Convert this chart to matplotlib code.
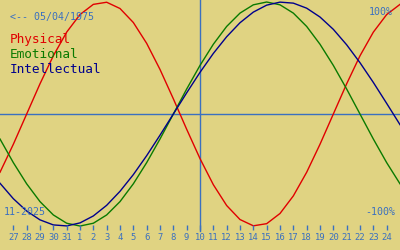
import matplotlib.pyplot as plt

# Colors
bg_color = '#e0d382'
blue = '#3a70c0'
colors = ['#e00000', '#0a7a00', '#00008c']

# Day labels along the bottom (Oct 26 .. Nov 25, only 27..24 are labelled)
day_labels = ['27', '28', '29', '30', '31'] + [str(d) for d in range(1, 25)]
today_index = 15  # the 10th, vertical marker

# Cycle values in percent, one per day, from Oct 26 (index 0) to Nov 25 (index 30)
physical = [-52.0, -27.0, 0.0, 27.0, 52.0, 73.1, 88.8, 97.9, 99.8, 94.2, 81.7,
            63.1, 39.8, 13.6, -13.6, -39.8, -63.1, -81.7, -94.2, -99.8, -97.9,
            -88.8, -73.1, -52.0, -27.0, 0.0, 27.0, 52.0, 73.1, 88.8, 97.9]
emotional = [-22.3, -43.4, -62.3, -78.2, -90.1, -97.5, -100.0, -97.5, -90.1, -78.2,
             -62.3, -43.4, -22.3, 0.0, 22.3, 43.4, 62.3, 78.2, 90.1, 97.5, 100.0,
             97.5, 90.1, 78.2, 62.3, 43.4, 22.3, 0.0, -22.3, -43.4, -62.3]
intellectual = [-61.8, -75.6, -86.6, -94.5, -99.0, -99.9, -97.2, -91.0, -81.5, -69.0,
                -54.1, -37.2, -18.9, 0.0, 18.9, 37.2, 54.1, 69.0, 81.5, 91.0, 97.2,
                99.9, 99.0, 94.5, 86.6, 75.6, 61.8, 45.8, 28.2, 9.5, -9.5]
names = ['Physical', 'Emotional', 'Intellectual']

fig = plt.figure(figsize=(4, 2.5), dpi=100)
fig.patch.set_facecolor(bg_color)
ax = fig.add_axes([0, 0, 1, 1])
ax.set_facecolor(bg_color)
ax.axis('off')

days = list(range(len(physical)))
ax.set_xlim(0, len(physical) - 1)
ax.set_ylim(-121.4, 101.8)

# Zero line and "today" marker
ax.axhline(0, color=blue, lw=1)
ax.axvline(today_index, ymin=0.076, ymax=1, color=blue, lw=1)

# The three curves
for values, c in zip([physical, emotional, intellectual], colors):
    ax.plot(days, values, color=c, lw=1)

# Day ticks and labels
xt = ax.get_xaxis_transform()
tick_pos = list(range(1, len(day_labels) + 1))
ax.vlines(tick_pos, 0.08, 0.1, color=blue, lw=1, transform=xt)
for x, lab in zip(tick_pos, day_labels):
    ax.text(x, 0.048, lab, transform=xt, ha='center', va='center',
            color=blue, fontsize=6.4, family='DejaVu Sans Mono')

# Text in the corners
mono = 'DejaVu Sans Mono'
ax.text(0.025, 0.932, '<-- 05/04/1975', transform=ax.transAxes, va='center',
        color=blue, fontsize=7.2, family=mono)
for i, (name, c) in enumerate(zip(names, colors)):
    ax.text(0.025, 0.828 - i * 0.06, name, transform=ax.transAxes, va='baseline',
            color=c, fontsize=9.2, family=mono)
ax.text(0.983, 0.952, '100%', transform=ax.transAxes, ha='right', va='center',
        color=blue, fontsize=7.2, family=mono)
ax.text(0.9875, 0.152, '-100%', transform=ax.transAxes, ha='right', va='center',
        color=blue, fontsize=7.2, family=mono)
ax.text(0.01, 0.152, '11-2025', transform=ax.transAxes, va='center',
        color=blue, fontsize=7.2, family=mono)

plt.savefig('out.png', dpi=100, facecolor=bg_color)
